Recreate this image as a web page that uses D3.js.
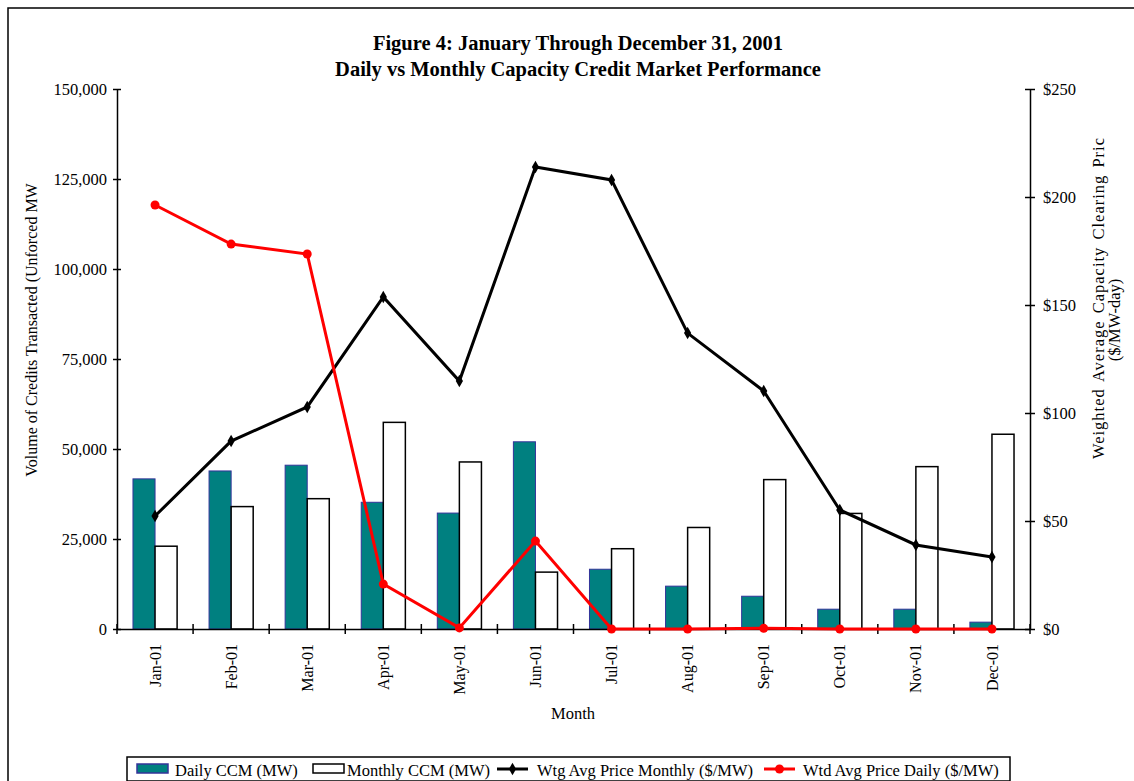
<!DOCTYPE html>
<meta charset="utf-8">
<script src="https://d3js.org/d3.v7.min.js"></script>
<style>
    body { margin: 0; background: #fff; }
    text { font-family: "Liberation Serif", "Times New Roman", serif; fill: #000; }
</style>
<div id="chart"></div>
<script>
    // data
    var months = ["Jan-01", "Feb-01", "Mar-01", "Apr-01", "May-01", "Jun-01",
        "Jul-01", "Aug-01", "Sep-01", "Oct-01", "Nov-01", "Dec-01"];
    var dailyCCM = [41700, 43900, 45500, 35200, 32200, 52000, 16600, 11900, 9100, 5500, 5500, 1900];
    var monthlyCCM = [23000, 34000, 36200, 57400, 46400, 15800, 22300, 28200, 41500, 32100, 45100, 54100];
    var priceMonthly = [52.3, 87.0, 102.8, 153.7, 114.8, 213.9, 207.9, 137.0, 110.2, 55.1, 38.9, 33.3];
    var priceDaily = [196.3, 178.2, 173.6, 20.8, 0.5, 40.7, 0, 0, 0.3, 0, 0, 0];
    var volTicks = [0, 25000, 50000, 75000, 100000, 125000, 150000];
    var priceTicks = [0, 50, 100, 150, 200, 250];

    var W = 1134, H = 781;
    var margin = { top: 89, right: 104, bottom: 152, left: 117 },
        width = W - margin.left - margin.right,
        height = H - margin.top - margin.bottom;

    var svg = d3.select("#chart").append("svg")
        .attr("width", W)
        .attr("height", H);

    // outer frame (only left/top edges visible)
    svg.append("rect")
        .attr("x", 8).attr("y", 8)
        .attr("width", W + 20).attr("height", H + 20)
        .attr("fill", "none").attr("stroke", "#000").attr("stroke-width", 1.5);

    // title
    svg.append("text").attr("x", 578).attr("y", 50)
        .attr("text-anchor", "middle").style("font-size", "20.5px").style("font-weight", "bold")
        .text("Figure 4: January Through December 31, 2001");
    svg.append("text").attr("x", 578).attr("y", 76)
        .attr("text-anchor", "middle").style("font-size", "20.5px").style("font-weight", "bold")
        .text("Daily vs Monthly Capacity Credit Market Performance");

    var g = svg.append("g")
        .attr("transform", "translate(" + margin.left + "," + margin.top + ")");

    var x = d3.scaleBand().domain(months).range([0, width]).padding(0);
    var y = d3.scaleLinear().domain([0, 150000]).range([height, 0]);
    var y2 = d3.scaleLinear().domain([0, 250]).range([height, 0]);

    var barW = x.bandwidth() * 0.29;

    // bars
    g.selectAll(".daily").data(dailyCCM).enter().append("rect")
        .attr("x", function (d, i) { return x(months[i]) + x.bandwidth() / 2 - barW; })
        .attr("y", function (d) { return y(d); })
        .attr("width", barW)
        .attr("height", function (d) { return height - y(d); })
        .attr("fill", "#008080").attr("stroke", "#333399").attr("stroke-width", 1);

    g.selectAll(".monthly").data(monthlyCCM).enter().append("rect")
        .attr("x", function (d, i) { return x(months[i]) + x.bandwidth() / 2; })
        .attr("y", function (d) { return y(d); })
        .attr("width", barW)
        .attr("height", function (d) { return height - y(d); })
        .attr("fill", "#fff").attr("stroke", "#000").attr("stroke-width", 1.5);

    // axes
    var fmt = d3.format(",");
    var leftAxis = g.append("g")
        .call(d3.axisLeft(y).tickValues(volTicks).tickFormat(fmt).tickSize(4).tickSizeOuter(0));
    leftAxis.selectAll(".tick line").attr("x2", 4).attr("x1", -4);
    leftAxis.selectAll(".tick text").attr("x", -10);

    var rightAxis = g.append("g")
        .attr("transform", "translate(" + width + ",0)")
        .call(d3.axisRight(y2).tickValues(priceTicks).tickFormat(function (d) { return "$" + d; }).tickSize(4).tickSizeOuter(0));
    rightAxis.selectAll(".tick line").attr("x1", -5).attr("x2", 5);
    rightAxis.selectAll(".tick text").attr("x", 13);

    var bottomAxis = g.append("g")
        .attr("transform", "translate(0," + height + ")")
        .call(d3.axisBottom(x).tickSize(0).tickSizeOuter(0));
    bottomAxis.selectAll(".tick text")
        .attr("transform", "rotate(-90)")
        .attr("x", -15).attr("y", 0).attr("dy", "0.35em")
        .style("text-anchor", "end");
    // tick marks at band boundaries
    g.append("g").selectAll("line")
        .data(months.concat(["end"]))
        .enter().append("line")
        .attr("x1", function (d, i) { return i < months.length ? x(d) : width; })
        .attr("x2", function (d, i) { return i < months.length ? x(d) : width; })
        .attr("y1", height - 5).attr("y2", height + 5)
        .attr("stroke", "#000").attr("stroke-width", 1.5);

    [leftAxis, rightAxis, bottomAxis].forEach(function (a) {
        a.selectAll("path").attr("stroke", "#000").attr("stroke-width", 1.5);
        a.selectAll("line").attr("stroke", "#000").attr("stroke-width", 1.5);
        a.selectAll("text").style("font-size", "16.5px").style("font-family", "Liberation Serif");
    });
    bottomAxis.selectAll("text").style("font-size", "16px");

    // lines
    var lineM = d3.line()
        .x(function (d, i) { return x(months[i]) + x.bandwidth() / 2; })
        .y(function (d) { return y2(d); });

    g.append("path").datum(priceMonthly)
        .attr("d", lineM).attr("fill", "none")
        .attr("stroke", "#000").attr("stroke-width", 3);
    g.selectAll(".dm").data(priceMonthly).enter().append("path")
        .attr("d", d3.symbol().type(d3.symbolDiamond).size(45))
        .attr("transform", function (d, i) {
            return "translate(" + (x(months[i]) + x.bandwidth() / 2) + "," + y2(d) + ")";
        })
        .attr("fill", "#000");

    g.append("path").datum(priceDaily)
        .attr("d", lineM).attr("fill", "none")
        .attr("stroke", "#ff0000").attr("stroke-width", 3);
    g.selectAll(".dd").data(priceDaily).enter().append("circle")
        .attr("cx", function (d, i) { return x(months[i]) + x.bandwidth() / 2; })
        .attr("cy", function (d) { return y2(d); })
        .attr("r", 4.5)
        .attr("fill", "#ff0000");

    // axis titles
    svg.append("text")
        .attr("transform", "translate(37,330) rotate(-90)")
        .attr("text-anchor", "middle").style("font-size", "16px")
        .text("Volume of Credits Transacted (Unforced MW");
    svg.append("text")
        .attr("transform", "translate(1104,137) rotate(-90)")
        .attr("text-anchor", "end").style("font-size", "16.5px")
        .style("letter-spacing", "1px").style("word-spacing", "2px")
        .text("Weighted Average Capacity Clearing Pric");
    svg.append("text")
        .attr("transform", "translate(1120,320) rotate(-90)")
        .attr("text-anchor", "middle").style("font-size", "16.5px")
        .text("($/MW-day)");
    svg.append("text")
        .attr("x", 573).attr("y", 719)
        .attr("text-anchor", "middle").style("font-size", "16.5px")
        .text("Month");

    // legend
    var lg = svg.append("g");
    lg.append("rect").attr("x", 127).attr("y", 757).attr("width", 883).attr("height", 24)
        .attr("fill", "#fff").attr("stroke", "#000").attr("stroke-width", 1.5);
    var legendItems = [
        { label: "Daily CCM (MW)", type: "bar", fill: "#008080", stroke: "#333399", x: 137, tx: 175 },
        { label: "Monthly CCM (MW)", type: "bar", fill: "#fff", stroke: "#000", x: 313, tx: 347 },
        { label: "Wtg Avg Price Monthly ($/MW)", type: "line", color: "#000", x: 497, tx: 537 },
        { label: "Wtd Avg Price Daily ($/MW)", type: "line", color: "#ff0000", x: 764, tx: 803 }
    ];
    legendItems.forEach(function (d) {
        if (d.type === "bar") {
            lg.append("rect").attr("x", d.x).attr("y", 764).attr("width", 31).attr("height", 9)
                .attr("fill", d.fill).attr("stroke", d.stroke).attr("stroke-width", 1.5);
        } else {
            lg.append("line").attr("x1", d.x).attr("x2", d.x + 31).attr("y1", 769).attr("y2", 769)
                .attr("stroke", d.color).attr("stroke-width", 3);
            if (d.color === "#000") {
                lg.append("path").attr("d", d3.symbol().type(d3.symbolDiamond).size(45))
                    .attr("transform", "translate(" + (d.x + 15.5) + ",769)").attr("fill", d.color);
            } else {
                lg.append("circle").attr("cx", d.x + 15.5).attr("cy", 769).attr("r", 4.5).attr("fill", d.color);
            }
        }
        lg.append("text").attr("x", d.tx).attr("y", 776).style("font-size", "16.5px").text(d.label);
    });
</script>
